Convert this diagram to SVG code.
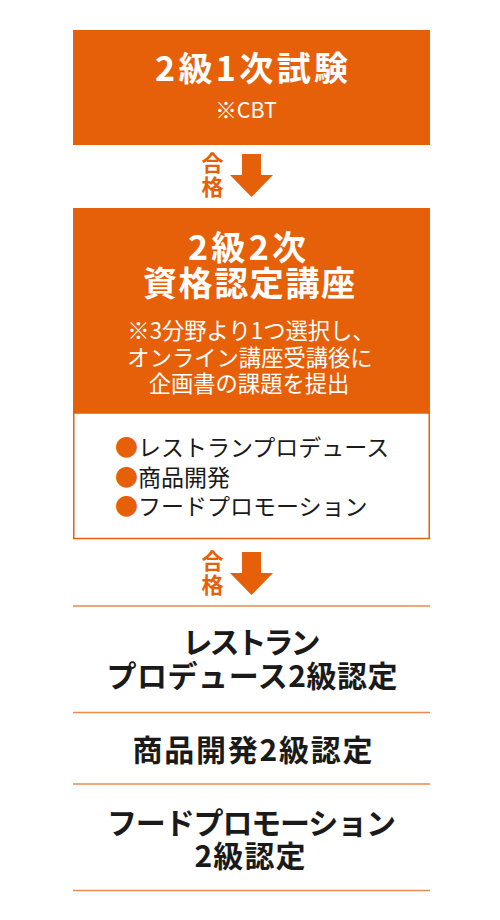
<svg xmlns="http://www.w3.org/2000/svg" width="500" height="920" viewBox="0 0 500 920">
<style>
text{font-family:"Noto Sans CJK JP","Noto Sans",sans-serif;text-anchor:middle}
.w{fill:#fff}
.b{font-weight:700}
.lbl{fill:#E6600A;font-weight:700;font-size:22px}
.blk{fill:#1a1a1a}
.org{fill:#E6600A}
.sep{stroke:#EA8A4C;stroke-width:1.5;fill:none}
.arr{fill:#E6600A}
.li{fill:#1a1a1a;font-size:23px;text-anchor:start}
</style>
<rect width="500" height="920" fill="#fff"/>
<g id="node-exam1">
<rect class="org" x="73" y="30" width="357" height="115"/>
<text class="w b" x="251.5" y="81" font-size="34" textLength="193" lengthAdjust="spacing">2級1次試験</text>
<text class="w" x="246" y="118" font-size="21.5">※CBT</text>
</g>
<g id="node-course">
<rect class="org" x="73" y="208" width="357" height="205"/>
<text class="w b" font-size="34"><tspan x="247" y="260" textLength="118" lengthAdjust="spacing">2級2次</tspan><tspan x="249" y="296" textLength="212" lengthAdjust="spacing">資格認定講座</tspan></text>
<text class="w" font-size="22.3"><tspan x="251" y="339">※3分野より1つ選択し、</tspan><tspan x="250" y="366">オンライン講座受講後に</tspan><tspan x="249" y="392">企画書の課題を提出</tspan></text>
<rect x="73.75" y="413" width="355.5" height="125.5" fill="#fff" stroke="#E6600A" stroke-width="1.5"/>
<text class="li"><tspan x="115" y="456"><tspan class="org">●</tspan>レストランプロデュース</tspan><tspan x="115" y="486"><tspan class="org">●</tspan>商品開発</tspan><tspan x="115" y="515"><tspan class="org">●</tspan>フードプロモーション</tspan></text>
</g>
<g id="node-restaurant">
<text class="blk b" font-size="30"><tspan x="251.5" y="653" textLength="138" lengthAdjust="spacing">レストラン</tspan><tspan x="252" y="687" textLength="291" lengthAdjust="spacing">プロデュース2級認定</tspan></text>
</g>
<g id="node-product">
<text class="blk b" x="252.5" y="761" font-size="30" textLength="240" lengthAdjust="spacing">商品開発2級認定</text>
</g>
<g id="node-food">
<text class="blk b" font-size="30"><tspan x="251.5" y="834" textLength="289" lengthAdjust="spacing">フードプロモーション</tspan><tspan x="250" y="867" textLength="111" lengthAdjust="spacing">2級認定</tspan></text>
</g>
<g id="connectors">
<polygon class="arr" points="242,154 261,154 261,175 273,175 251.5,197 230,175 242,175"/>
<text class="lbl"><tspan x="212.5" y="171">合</tspan><tspan x="212.5" y="195">格</tspan></text>
<polygon class="arr" points="242,552 261,552 261,573 273,573 251.5,595 230,573 242,573"/>
<text class="lbl"><tspan x="212.5" y="569">合</tspan><tspan x="212.5" y="593">格</tspan></text>
<line class="sep" x1="73" y1="606" x2="430" y2="606"/>
<line class="sep" x1="73" y1="712.5" x2="430" y2="712.5"/>
<line class="sep" x1="73" y1="784" x2="430" y2="784"/>
<line class="sep" x1="73" y1="890.5" x2="430" y2="890.5"/>
</g>
</svg>
